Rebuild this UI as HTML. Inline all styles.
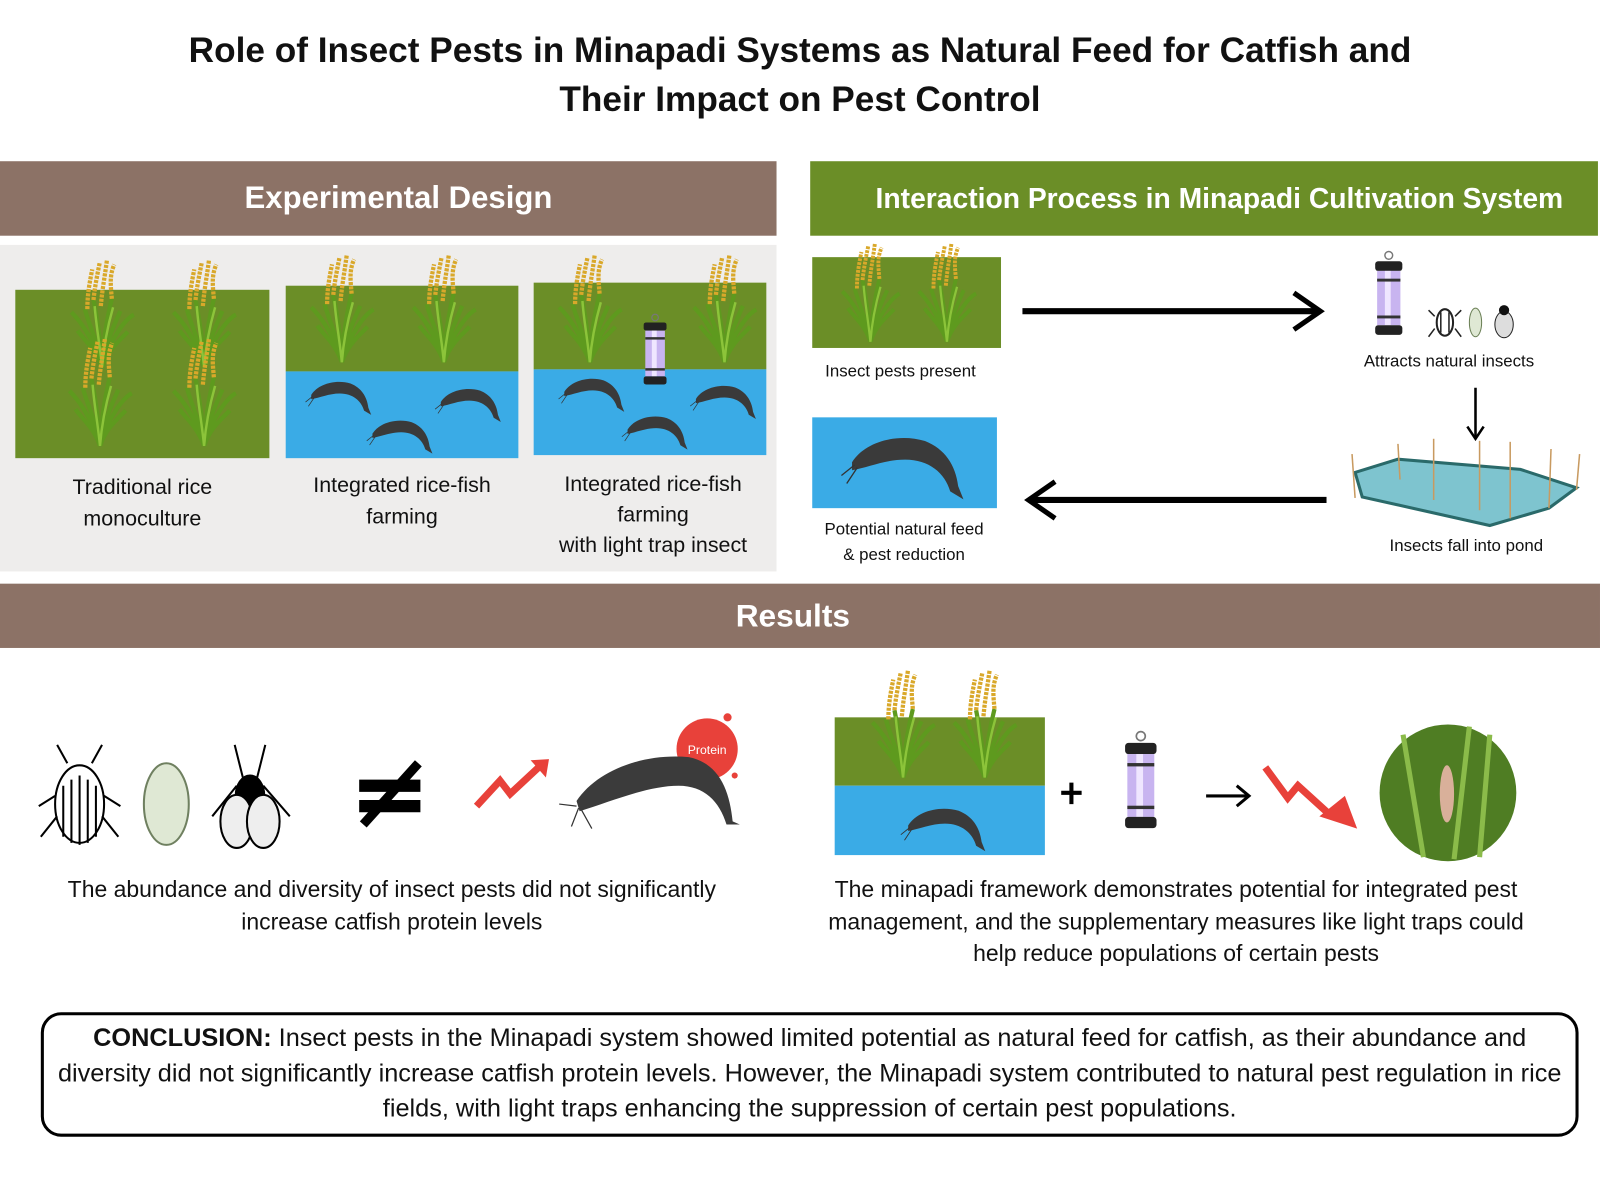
<!DOCTYPE html>
<html><head><meta charset="utf-8">
<style>
html,body{margin:0;padding:0;background:#fff;}
body{width:1600px;height:1200px;overflow:hidden;position:relative;font-family:"Liberation Sans",Arial,sans-serif;}
#w{position:absolute;left:0;top:0;width:1568px;height:1176px;transform:scale(1.0204);transform-origin:0 0;}
.a{position:absolute;}
.t{position:absolute;text-align:center;color:#111;}
.ban{position:absolute;color:#fff;font-weight:bold;display:flex;align-items:center;justify-content:center;}
svg{position:absolute;overflow:visible;}
</style></head><body><div id="w">
<svg width="0" height="0" style="position:absolute">
<defs>
<g id="rice">
 <path d="M0,0 C-6,-40 -22,-70 -28,-95 M0,0 C-2,-45 -8,-80 -14,-110 M0,0 C2,-45 8,-80 16,-112 M0,0 C6,-40 20,-70 30,-92 M0,0 C-10,-30 -30,-45 -40,-60 M0,0 C10,-30 30,-45 42,-58 M0,0 C-14,-50 -40,-80 -50,-90 M0,0 C14,-50 40,-80 52,-86" stroke="#5e9a1e" stroke-width="7" fill="none"/>
 <path d="M0,0 C-4,-40 -10,-70 -12,-100 M0,0 C3,-40 10,-70 18,-98" stroke="#8cc43a" stroke-width="4" fill="none"/>
 <path d="M-14,-110 C-12,-130 -8,-150 -4,-170 M16,-112 C14,-135 12,-150 20,-168 M-2,-100 C0,-125 4,-145 8,-175 M-24,-95 C-24,-120 -20,-140 -16,-160" stroke="#d9a82a" stroke-width="7" stroke-dasharray="5 2" fill="none"/>
</g>
<g id="fish">
 <path d="M0,10 C10,-6 35,-12 55,-6 C70,0 78,12 80,28 L84,38 L74,32 C70,18 58,8 40,8 C25,8 12,14 0,16 Z" fill="#3a3a3a"/>
 <path d="M2,12 L-8,20 M4,14 L-4,26" stroke="#333" stroke-width="1"/>
</g>
<g id="lamp">
 <circle cx="20" cy="-6" r="4" fill="none" stroke="#777" stroke-width="1.5"/>
 <rect x="6" y="0" width="28" height="10" rx="3" fill="#222"/>
 <rect x="8" y="10" width="24" height="56" fill="#c8b4f0"/>
 <rect x="16" y="10" width="6" height="56" fill="#efe6ff"/>
 <rect x="8" y="18" width="24" height="3" fill="#333"/><rect x="8" y="56" width="24" height="3" fill="#333"/>
 <rect x="6" y="66" width="28" height="10" rx="3" fill="#222"/>
</g>
</defs></svg>

<div class="t" style="left:0;top:26px;width:1568px;font-size:34.5px;font-weight:bold;line-height:48px;">Role of Insect Pests in Minapadi Systems as Natural Feed for Catfish and<br>Their Impact on Pest Control</div>

<div class="ban" style="left:0;top:158px;width:761px;height:73px;background:#8c7266;font-size:30.5px;padding-left:20px;box-sizing:border-box;">Experimental Design</div>
<div class="ban" style="left:794px;top:158px;width:772px;height:73px;background:#6b8e27;font-size:27.7px;padding-left:30px;box-sizing:border-box;">Interaction Process in Minapadi Cultivation System</div>

<div class="a" style="left:0;top:240px;width:761px;height:320px;background:#eeedec;"></div>
<div class="a" style="left:15px;top:284px;width:249px;height:165px;background:#6b8e27;"></div>
<div class="a" style="left:280px;top:280px;width:228px;height:84px;background:#6b8e27;"></div>
<div class="a" style="left:280px;top:364px;width:228px;height:85px;background:#3aabe6;"></div>
<div class="a" style="left:523px;top:277px;width:228px;height:85px;background:#6b8e27;"></div>
<div class="a" style="left:523px;top:362px;width:228px;height:84px;background:#3aabe6;"></div>
<svg style="left:0;top:0" width="1568" height="1176">
 <use href="#rice" transform="translate(100,360) scale(.6)"/><use href="#rice" transform="translate(200,360) scale(.6)"/>
 <use href="#rice" transform="translate(98,437) scale(.6)"/><use href="#rice" transform="translate(200,437) scale(.6)"/>
 <use href="#rice" transform="translate(335,355) scale(.6)"/><use href="#rice" transform="translate(435,355) scale(.6)"/>
 <use href="#rice" transform="translate(578,355) scale(.6)"/><use href="#rice" transform="translate(710,355) scale(.6)"/>
 <use href="#fish" transform="translate(305,380) scale(.7)"/><use href="#fish" transform="translate(432,387) scale(.7)"/><use href="#fish" transform="translate(365,418) scale(.7)"/>
 <use href="#fish" transform="translate(553,377) scale(.7)"/><use href="#fish" transform="translate(682,384) scale(.7)"/><use href="#fish" transform="translate(615,414) scale(.7)"/>
 <use href="#lamp" transform="translate(626,316) scale(.8)"/>
 <rect x="796" y="252" width="185" height="89" fill="#6b8e27"/>
 <use href="#rice" transform="translate(853,335) scale(.55)"/><use href="#rice" transform="translate(928,335) scale(.55)"/>
 <rect x="796" y="409" width="181" height="89" fill="#3aabe6"/>
 <g transform="translate(835,440) scale(1.3)"><use href="#fish"/></g>
 <line x1="1002" y1="305" x2="1292" y2="305" stroke="#000" stroke-width="6"/>
 <path d="M1268,287 L1294,305 L1268,323" fill="none" stroke="#000" stroke-width="5"/>
 <use href="#lamp" transform="translate(1342,256) scale(.95)"/>
 <g><ellipse cx="1416" cy="316" rx="8" ry="13" fill="#fff" stroke="#222" stroke-width="2"/><path d="M1412,306 L1412,326 M1420,306 L1420,326 M1406,310 L1400,304 M1426,310 L1432,304 M1406,322 L1400,330 M1426,322 L1432,330" stroke="#222" stroke-width="1.5"/><ellipse cx="1446" cy="316" rx="6" ry="14" fill="#dfe8d4" stroke="#6a7f55"/><ellipse cx="1474" cy="318" rx="9" ry="13" fill="#ddd" stroke="#222"/><circle cx="1474" cy="304" r="5" fill="#111"/></g>
 <line x1="1446" y1="380" x2="1446" y2="428" stroke="#000" stroke-width="2.5"/>
 <path d="M1438,418 L1446,430 L1454,418" fill="none" stroke="#000" stroke-width="2.5"/>
 <path d="M1328,463 L1370,450 L1490,460 L1545,478 L1518,498 L1460,515 L1335,487 Z" fill="#7ec4cf" stroke="#2a6a6a" stroke-width="3"/>
 <g stroke="#c89a60" stroke-width="1.5"><line x1="1325" y1="445" x2="1328" y2="488"/><line x1="1370" y1="435" x2="1372" y2="470"/><line x1="1405" y1="430" x2="1405" y2="490"/><line x1="1450" y1="432" x2="1450" y2="500"/><line x1="1480" y1="433" x2="1480" y2="508"/><line x1="1520" y1="440" x2="1518" y2="498"/><line x1="1548" y1="445" x2="1545" y2="480"/></g>
 <line x1="1300" y1="490" x2="1012" y2="490" stroke="#000" stroke-width="6"/>
 <path d="M1034,472 L1008,490 L1034,508" fill="none" stroke="#000" stroke-width="5"/>
 <g stroke="#000" stroke-width="2" fill="#fff">
  <ellipse cx="78" cy="788" rx="24" ry="38"/><path d="M62,770 L62,820 M70,764 L70,826 M78,760 L78,828 M86,764 L86,826 M94,770 L94,820"/>
  <path d="M54,780 L38,790 M102,780 L118,790 M56,800 L40,820 M100,800 L116,820 M66,748 L56,730 M90,748 L100,730"/>
  <ellipse cx="163" cy="788" rx="22" ry="40" fill="#dfe8d4" stroke="#6f8060"/>
  <ellipse cx="245" cy="780" rx="14" ry="20" fill="#000"/><ellipse cx="232" cy="805" rx="16" ry="26" fill="#eee"/><ellipse cx="258" cy="805" rx="16" ry="26" fill="#eee"/>
  <path d="M232,770 L208,800 M258,770 L284,800 M238,762 L230,730 M252,762 L260,730"/>
 </g>
 <path d="M352,770 L412,770 M352,790 L412,790" stroke="#000" stroke-width="12"/>
 <line x1="356" y1="808" x2="410" y2="748" stroke="#000" stroke-width="9"/>
 <path d="M467,790 L490,765 L500,778 L530,750" fill="none" stroke="#e8413a" stroke-width="7"/>
 <path d="M520,745 L538,744 L535,762 Z" fill="#e8413a"/>
 <circle cx="693" cy="734" r="30" fill="#e8413a"/><circle cx="713" cy="703" r="4" fill="#e8413a"/><circle cx="720" cy="760" r="3" fill="#e8413a"/>
 <text x="693" y="739" fill="#fff" font-size="12" text-anchor="middle" font-family="Liberation Sans">Protein</text>
 <path d="M565,785 C585,755 630,738 675,742 C705,748 715,775 718,805 L725,808 L712,808 C705,785 690,770 665,770 C635,770 600,785 568,795 Z" fill="#3b3b3b"/>
 <path d="M565,790 L548,788 M567,792 L560,810 M570,794 L580,812" stroke="#333" stroke-width="1.2"/>
 <rect x="818" y="703" width="206" height="67" fill="#6b8e27"/>
 <rect x="818" y="770" width="206" height="68" fill="#3aabe6"/>
 <use href="#rice" transform="translate(885,762) scale(.6)"/><use href="#rice" transform="translate(965,762) scale(.6)"/>
 <use href="#fish" transform="translate(890,800) scale(.9)"/>
 <path d="M1040,777 L1060,777 M1050,767 L1050,788" stroke="#000" stroke-width="4"/>
 <use href="#lamp" transform="translate(1096,728) scale(1.1)"/>
 <line x1="1182" y1="780" x2="1222" y2="780" stroke="#000" stroke-width="3"/>
 <path d="M1212,770 L1224,780 L1212,790" fill="none" stroke="#000" stroke-width="3"/>
 <path d="M1240,752 L1262,782 L1272,770 L1305,800" fill="none" stroke="#e8413a" stroke-width="7"/>
 <path d="M1293,800 L1330,812 L1318,780 Z" fill="#e8413a"/>
 <circle cx="1419" cy="777" r="67" fill="#4f7d23"/>
 <path d="M1375,720 L1395,840 M1440,712 L1425,842 M1460,720 L1450,840" stroke="#8bbb4a" stroke-width="5"/>
 <ellipse cx="1418" cy="778" rx="7" ry="28" fill="#d9b09a"/>
</svg>

<div class="t" style="left:15px;top:462px;width:249px;font-size:21px;line-height:31px;">Traditional rice<br>monoculture</div>
<div class="t" style="left:280px;top:460px;width:228px;font-size:21px;line-height:31px;">Integrated rice-fish<br>farming</div>
<div class="t" style="left:520px;top:460px;width:240px;font-size:21px;line-height:30px;">Integrated rice-fish<br>farming<br>with light trap insect</div>
<div class="t" style="left:780px;top:355px;width:205px;font-size:16.5px;">Insect pests present</div>
<div class="t" style="left:1320px;top:345px;width:200px;font-size:16.5px;">Attracts natural insects</div>
<div class="t" style="left:1337px;top:526px;width:200px;font-size:16.5px;">Insects fall into pond</div>
<div class="t" style="left:780px;top:507px;width:212px;font-size:16.5px;line-height:25px;">Potential natural feed<br>&amp; pest reduction</div>

<div class="ban" style="left:0;top:572px;width:1568px;height:63px;background:#8c7266;font-size:31px;padding-right:14px;box-sizing:border-box;">Results</div>

<div class="t" style="left:0;top:856px;width:768px;font-size:22.5px;line-height:32px;">The abundance and diversity of insect pests did not significantly<br>increase catfish protein levels</div>
<div class="t" style="left:760px;top:856px;width:785px;font-size:22.5px;line-height:31.5px;">The minapadi framework demonstrates potential for integrated pest<br>management, and the supplementary measures like light traps could<br>help reduce populations of certain pests</div>

<div class="a" style="left:40px;top:992px;width:1501px;height:116px;border:3px solid #000;border-radius:20px;"></div>
<div class="t" style="left:20px;top:1001px;width:1547px;font-size:24.8px;line-height:34.5px;">
<b>CONCLUSION:</b> Insect pests in the Minapadi system showed limited potential as natural feed for catfish, as their abundance and<br>diversity did not significantly increase catfish protein levels. However, the Minapadi system contributed to natural pest regulation in rice<br>fields, with light traps enhancing the suppression of certain pest populations.</div>
</div></body></html>
